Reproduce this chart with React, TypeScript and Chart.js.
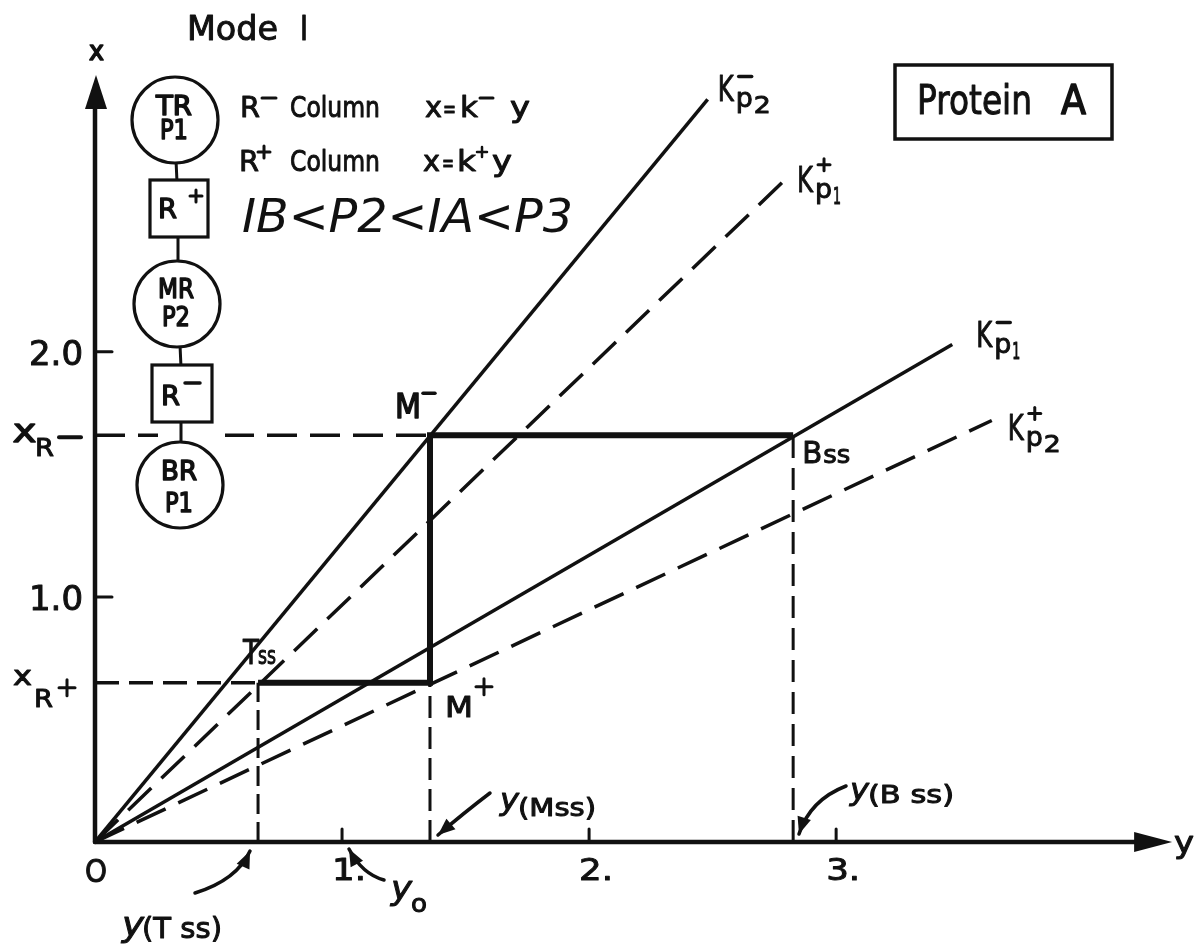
import { useEffect, useRef } from "react";
import { Chart, registerables } from "chart.js";

Chart.register(...registerables);

// Horizontal axis is the concentration y, vertical axis is x.
const yTicks = [1, 2, 3];
const yTickText = ["1.", "2.", "3."];
const xTicks = [1, 2];
const xTickText = ["1.0", "2.0"];

// Raffinate levels on the x axis
const xRMinus = 1.66;
const xRPlus = 0.65;

// Steady-state positions along y
const yTss = 0.66;
const yMss = 1.356;
const yBss = 2.826;

// Equilibrium lines x = k·y from the origin: end points (y, x)
const rayKeys = ["kp2-", "kp1+", "kp1-", "kp2+"];
const rayEndY = [2.48, 2.785, 3.47, 3.63];
const rayEndX = [3.03, 2.694, 2.03, 1.72];
const rayDashed = [false, true, false, true];

// Operating path Tss -> M+ -> M- -> Bss
const pathY = [yTss, yMss, yMss, yBss];
const pathX = [xRPlus, xRPlus, xRMinus, xRMinus];

// Axis arrow tips
const yAxisEnd = 4.36;
const xAxisEnd = 3.13;

const INK = "#111";
const FONT = '"DejaVu Sans"';

type TOpts = { italic?: boolean; bold?: boolean; align?: CanvasTextAlign; weight?: number };

// Draws text starting at (x, baseline); when width is given the glyphs are
// squeezed horizontally to fill it. A thin outline gives the lettering-pen weight.
function txt(
  ctx: CanvasRenderingContext2D,
  s: string,
  x: number,
  y: number,
  size: number,
  width?: number,
  o: TOpts = {}
) {
  ctx.save();
  ctx.font = `${o.italic ? "italic " : ""}${o.bold ? "bold " : ""}${size}px ${FONT}`;
  const w = ctx.measureText(s).width;
  const sx = width ? width / w : 1;
  ctx.translate(x, y);
  ctx.scale(sx, 1);
  ctx.textAlign = o.align || "left";
  ctx.textBaseline = "alphabetic";
  ctx.fillStyle = INK;
  ctx.fillText(s, 0, 0);
  const weight = o.weight === undefined ? 1 : o.weight;
  if (weight > 0) {
    ctx.strokeStyle = INK;
    ctx.lineWidth = weight;
    ctx.lineJoin = "round";
    ctx.strokeText(s, 0, 0);
  }
  ctx.restore();
}

function seg(ctx: CanvasRenderingContext2D, x1: number, y1: number, x2: number, y2: number, lw: number) {
  ctx.save();
  ctx.strokeStyle = INK;
  ctx.lineWidth = lw;
  ctx.lineCap = "round";
  ctx.beginPath();
  ctx.moveTo(x1, y1);
  ctx.lineTo(x2, y2);
  ctx.stroke();
  ctx.restore();
}

function minus(ctx: CanvasRenderingContext2D, x1: number, x2: number, y: number, lw = 3) {
  seg(ctx, x1, y, x2, y, lw);
}

function plus(ctx: CanvasRenderingContext2D, cx: number, cy: number, r: number, lw = 2.5) {
  seg(ctx, cx - r, cy, cx + r, cy, lw);
  seg(ctx, cx, cy - r, cx, cy + r, lw);
}

function head(ctx: CanvasRenderingContext2D, tx: number, ty: number, ang: number, len: number, half: number) {
  ctx.save();
  ctx.fillStyle = INK;
  ctx.beginPath();
  ctx.moveTo(tx, ty);
  ctx.lineTo(tx - len * Math.cos(ang) + half * Math.sin(ang), ty - len * Math.sin(ang) - half * Math.cos(ang));
  ctx.lineTo(tx - len * Math.cos(ang) - half * Math.sin(ang), ty - len * Math.sin(ang) + half * Math.cos(ang));
  ctx.closePath();
  ctx.fill();
  ctx.restore();
}

function curveArrow(
  ctx: CanvasRenderingContext2D,
  x0: number, y0: number, cx: number, cy: number, x1: number, y1: number
) {
  ctx.save();
  ctx.strokeStyle = INK;
  ctx.lineWidth = 3.5;
  ctx.lineCap = "round";
  ctx.beginPath();
  ctx.moveTo(x0, y0);
  ctx.quadraticCurveTo(cx, cy, x1, y1);
  ctx.stroke();
  ctx.restore();
  head(ctx, x1, y1, Math.atan2(y1 - cy, x1 - cx), 17, 7);
}

function circleNode(ctx: CanvasRenderingContext2D, cx: number, cy: number, r: number, a: string, b: string, ya: number, yb: number) {
  ctx.save();
  ctx.fillStyle = "#fff";
  ctx.strokeStyle = INK;
  ctx.lineWidth = 3.2;
  ctx.beginPath();
  ctx.arc(cx, cy, r, 0, Math.PI * 2);
  ctx.fill();
  ctx.stroke();
  ctx.restore();
  txt(ctx, a, cx - 1, ya, 27, 36, { align: "center", weight: 1.6 });
  txt(ctx, b, cx - 1, yb, 27, 28, { align: "center", weight: 1.6 });
}

function boxNode(ctx: CanvasRenderingContext2D, x: number, y: number, w: number, h: number) {
  ctx.save();
  ctx.fillStyle = "#fff";
  ctx.strokeStyle = INK;
  ctx.lineWidth = 3.2;
  ctx.fillRect(x, y, w, h);
  ctx.strokeRect(x, y, w, h);
  ctx.restore();
}

const paperBg = {
  id: "paperBg",
  beforeDraw(chart: Chart) {
    const { ctx, width, height } = chart;
    ctx.save();
    ctx.fillStyle = "#fff";
    ctx.fillRect(0, 0, width, height);
    ctx.restore();
  },
};

const diagram = {
  id: "diagram",
  afterDatasetsDraw(chart: Chart) {
    const ctx = chart.ctx;
    const X = (v: number) => chart.scales.x.getPixelForValue(v);
    const Y = (v: number) => chart.scales.y.getPixelForValue(v);
    const ox = X(0);
    const oy = Y(0);

    // axes with arrow heads
    const hx = X(yAxisEnd);
    const vy = Y(xAxisEnd);
    seg(ctx, ox, oy, hx - 30, oy, 4.5);
    head(ctx, hx, oy, 0, 38, 10);
    seg(ctx, ox, oy, ox, vy + 28, 4.5);
    head(ctx, ox + 1, vy, -Math.PI / 2, 34, 11);

    // ticks and tick labels
    yTicks.forEach((v, i) => {
      seg(ctx, X(v), oy, X(v), oy - 13, 3);
      txt(ctx, yTickText[i], X(v) - 10, oy + 38, 31, 34);
    });
    xTicks.forEach((v, i) => {
      seg(ctx, ox, Y(v), ox + 17, Y(v), 3);
      txt(ctx, xTickText[i], ox - 12, Y(v) + 13, 34, 54, { align: "right" });
    });
    txt(ctx, "O", ox - 10, oy + 40, 32, 22);

    // axis names
    txt(ctx, "x", ox - 6, 60, 26, 15, { weight: 1.6 });
    txt(ctx, "y", hx + 2, oy + 11, 30, 20);

    // level labels on the x axis
    txt(ctx, "X", 13, Y(xRMinus) + 7, 24, 23, { weight: 1.6 });
    txt(ctx, "R", 35, Y(xRMinus) + 21, 25, 19);
    minus(ctx, 59, 81, Y(xRMinus) + 2, 4);
    txt(ctx, "x", 13, Y(xRPlus) + 2, 27, 19);
    txt(ctx, "R", 34, Y(xRPlus) + 24, 25, 19);
    plus(ctx, 67, Y(xRPlus) + 5, 8, 3);

    // point labels
    txt(ctx, "M", X(yMss) - 35, Y(xRMinus) - 17, 33, 26, { weight: 1.6 });
    minus(ctx, X(yMss) - 7, X(yMss) + 5, Y(xRMinus) - 42, 3.5);
    txt(ctx, "M", X(yMss) + 15, Y(xRPlus) + 34, 28, 28);
    plus(ctx, X(yMss) + 54, Y(xRPlus) + 4, 8, 3);
    txt(ctx, "T", X(yTss) - 15, Y(xRPlus) - 19, 34, 16);
    txt(ctx, "ss", X(yTss) + 0, Y(xRPlus) - 19, 24, 18);
    txt(ctx, "B", X(yBss) + 9, Y(xRMinus) + 28, 30, 20);
    txt(ctx, "ss", X(yBss) + 30, Y(xRMinus) + 28, 24, 27);

    // equilibrium line names: K with p-subscript and sign
    const kLabel = (k: number, sub: string, sign: string, dx: number, dy: number) => {
      const ex = X(rayEndY[k]) + dx;
      const ey = Y(rayEndX[k]) + dy;
      txt(ctx, "K", ex, ey, 36, 16);
      txt(ctx, "p", ex + 18, ey + 6, 27, 17);
      txt(ctx, sub, ex + 36, ey + 12, 23, sub === "1" ? 8 : 17);
      if (sign === "-") minus(ctx, ex + 21, ex + 34, ey - 25, 3.5);
      else plus(ctx, ex + 27, ey - 27, 6, 3);
    };
    kLabel(0, "2", "-", 10, 2);
    kLabel(1, "1", "+", 14, 10);
    kLabel(2, "1", "-", 24, 3);
    kLabel(3, "2", "+", 16, 20);

    // axis annotations
    txt(ctx, "y", 500, 810, 30, 19, { italic: true });
    txt(ctx, "(Mss)", 518, 816, 25, 78);
    curveArrow(ctx, 490, 793, 465, 812, 438, 835);

    txt(ctx, "y", 850, 800, 30, 19, { italic: true });
    txt(ctx, "(B ss)", 868, 803, 25, 86);
    curveArrow(ctx, 846, 786, 810, 800, 799, 834);

    txt(ctx, "y", 122, 936, 34, 22, { italic: true });
    txt(ctx, "(T ss)", 142, 938, 29, 80);
    curveArrow(ctx, 195, 893, 237, 880, 250, 851);

    txt(ctx, "y", 391, 899, 32, 21, { italic: true });
    txt(ctx, "o", 411, 912, 24, 16);
    curveArrow(ctx, 384, 880, 362, 874, 349, 849);

    // headings
    txt(ctx, "Mode", 187, 40, 34, 91);
    txt(ctx, "I", 300, 40, 34, 8);

    txt(ctx, "R", 240, 117, 29, 20);
    minus(ctx, 262, 276, 98, 3);
    txt(ctx, "Column", 290, 117, 29, 90);
    txt(ctx, "x", 425, 117, 29, 17);
    txt(ctx, "=", 443, 117, 24, 13);
    txt(ctx, "k", 460, 117, 29, 18);
    minus(ctx, 480, 493, 98, 3);
    txt(ctx, "y", 510, 117, 29, 20);

    txt(ctx, "R", 239, 171, 29, 20);
    plus(ctx, 264, 152, 6, 3);
    txt(ctx, "Column", 290, 171, 29, 90);
    txt(ctx, "x", 423, 171, 29, 17);
    txt(ctx, "=", 442, 171, 24, 12);
    txt(ctx, "k", 457, 171, 29, 19);
    plus(ctx, 482, 152, 5, 2.5);
    txt(ctx, "y", 492, 171, 29, 20);

    txt(ctx, "IB<P2<IA<P3", 242, 232, 46, 331, { italic: true, weight: 0 });

    // sample label box
    ctx.save();
    ctx.strokeStyle = INK;
    ctx.lineWidth = 3.5;
    ctx.strokeRect(895, 65, 217, 74);
    ctx.restore();
    txt(ctx, "Protein", 917, 114, 40, 115);
    txt(ctx, "A", 1061, 114, 40, 25, { weight: 1.6 });

    // column train schematic
    ctx.save();
    ctx.fillStyle = "#fff";
    ctx.fillRect(158, Y(xRMinus) - 6, 67, 12);
    ctx.restore();
    seg(ctx, 176, 160, 177, 182, 3);
    seg(ctx, 178, 235, 178, 264, 3);
    seg(ctx, 180, 345, 181, 367, 3);
    seg(ctx, 181, 420, 181, 445, 3);

    circleNode(ctx, 175, 120, 43, "TR", "P1", 115, 139);
    boxNode(ctx, 150, 180, 58, 57);
    txt(ctx, "R", 158, 218, 27, 19, { weight: 1.4 });
    plus(ctx, 196, 196, 6, 3);
    circleNode(ctx, 177, 304, 43, "MR", "P2", 298, 326);
    boxNode(ctx, 152, 365, 60, 57);
    txt(ctx, "R", 161, 405, 27, 19, { weight: 1.4 });
    minus(ctx, 185, 200, 383, 3.5);
    circleNode(ctx, 180, 485, 43, "BR", "P1", 480, 512);
  },
};

export default function App() {
  const ref = useRef<HTMLCanvasElement | null>(null);

  useEffect(() => {
    if (!ref.current) return;
    const line = (pts: { x: number; y: number }[], width: number, dash: number[]) => ({
      data: pts,
      showLine: true,
      borderColor: INK,
      backgroundColor: INK,
      borderWidth: width,
      borderDash: dash,
      borderCapStyle: "butt" as const,
      borderJoinStyle: "miter" as const,
      pointRadius: 0,
      fill: false,
      tension: 0,
    });

    const guides = [
      line([{ x: 0, y: xRMinus }, { x: yMss, y: xRMinus }], 3.5, [30, 13]),
      line([{ x: 0, y: xRPlus }, { x: yTss, y: xRPlus }], 3.5, [24, 10]),
      line([{ x: yTss, y: 0 }, { x: yTss, y: xRPlus }], 3, [20, 8]),
      line([{ x: yMss, y: 0 }, { x: yMss, y: xRPlus }], 3, [22, 9]),
      line([{ x: yBss, y: 0 }, { x: yBss, y: xRMinus }], 3, [22, 10]),
    ];
    const rays = rayKeys.map((_, i) =>
      line(
        [{ x: 0, y: 0 }, { x: rayEndY[i], y: rayEndX[i] }],
        3.5,
        rayDashed[i] ? [32, 14] : []
      )
    );
    const path = line(pathY.map((v, i) => ({ x: v, y: pathX[i] })), 6, []);

    const chart = new Chart(ref.current, {
      type: "scatter",
      data: { datasets: [path, ...rays, ...guides] as any },
      options: {
        responsive: false,
        animation: false,
        events: [],
        layout: { padding: { left: 95, right: 18, top: 70, bottom: 110 } },
        scales: {
          x: { type: "linear", min: 0, max: 4.4, display: false },
          y: { type: "linear", min: 0, max: 3.15, display: false },
        },
        plugins: { legend: { display: false }, tooltip: { enabled: false } },
      },
      plugins: [paperBg, diagram],
    });
    return () => chart.destroy();
  }, []);

  return (
    <div style={{ position: "absolute", left: 0, top: 0, width: 1200, height: 952, background: "#fff" }}>
      <canvas ref={ref} width={1200} height={952} style={{ display: "block" }} />
    </div>
  );
}
